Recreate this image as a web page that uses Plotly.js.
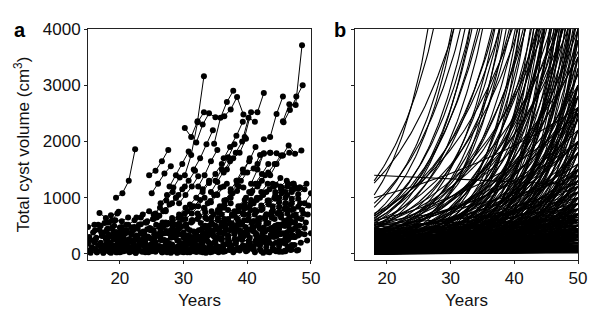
<!DOCTYPE html>
<html><head><meta charset="utf-8">
<script src="https://cdn.plot.ly/plotly-3.0.1.min.js"></script>
<style>html,body{margin:0;padding:0;background:#fff}#chart{width:600px;height:317px}</style>
</head><body><div id="chart"></div>
<script>
// Panel a: each subject = [age at first scan, volume at scans 1..4] (cm3), yearly scans
const visitOffsets = [0, 1, 2, 3];
const subjectsTeens = [
 [15.0,480,520,500,560],[15.0,180,210,150,240],[15.0,60,90,70,110],[15.2,300,260,320,350],
 [15.4,20,30,25,40],[15.6,120,160,140,190],[15.8,380,430,400,470],[16.0,240,200,270,300],
 [16.2,80,60,110,90],[16.4,30,50,40,70],[16.8,730,640,600,750],[16.6,520,550,690,720],
 [17.0,160,210,260,230],[17.2,350,300,380,420],[17.4,20,40,30,60],[17.6,90,130,110,170],
 [17.8,270,320,290,360],[18.0,440,400,470,520],[18.2,50,80,60,100],[18.4,190,150,220,260],
 [18.6,20,30,50,40],[18.8,310,360,410,380],[19.0,120,170,140,200],[19.2,60,40,90,70],
 [19.4,1000,1080,1300,1860],[19.6,230,280,250,330],[19.8,380,420,470,450],
 [15.3,250,290,330,310],[16.1,420,380,450,500],[17.3,120,90,150,180],[18.3,560,600,580,650],
 [19.1,300,340,380,420]
];
const subjects20s = [
 [20.0,30,60,50,80],[20.2,150,120,180,220],[20.5,280,250,310,360],[20.8,80,110,90,140],
 [21.0,420,470,520,560],[21.2,200,240,210,280],[21.5,30,20,50,40],[21.8,340,300,370,420],
 [22.0,120,160,200,180],[22.3,480,530,580,620],[22.5,20,40,30,60],[22.8,260,300,280,350],
 [23.0,60,90,140,120],[23.3,380,440,420,500],[23.6,170,140,210,250],[24.0,30,50,80,60],
 [24.2,560,620,680,760],[24.4,300,270,330,380],[24.6,1400,1480,1650,1850],[24.8,100,140,120,180],
 [25.0,1080,1250,1430,1560],[25.2,420,480,560,640],[25.4,200,250,230,300],[25.6,40,30,60,90],
 [25.8,650,760,880,1000],[26.0,320,370,420,400],[26.2,140,190,170,230],[26.4,900,1050,1180,1360],
 [26.6,60,90,80,120],[26.8,480,540,520,610],[27.0,250,290,340,380],[27.2,780,900,1050,1200],
 [27.4,30,50,40,80],[27.6,370,420,480,450],[27.8,1200,1400,1600,1820],[28.0,160,130,190,240],
 [28.2,560,640,720,820],[28.4,80,110,150,130],[28.6,300,350,330,400],[28.8,1000,1150,1300,1480],
 [29.0,20,30,50,40],[29.2,450,500,560,620],[29.4,200,240,290,270],[29.6,680,760,850,960],
 [29.8,40,70,60,100],[28.0,20,30,40,30],[29.0,250,290,270,320],
 [20.3,480,520,600,650],[21.4,90,130,170,150],[22.6,650,700,760,720],[23.4,250,310,360,420],
 [24.5,50,80,110,100],[25.3,700,820,950,1100],[26.3,350,410,470,540],[27.3,520,600,700,820],
 [28.3,380,450,520,600],[29.3,900,1050,1200,1380],[29.7,150,190,240,290],[26.7,30,60,90,80],
 [23.7,400,460,520,560]
];
const subjects30s = [
 [30.2,2240,2080,2360,3160],[30.0,140,180,160,220],[30.2,1400,1760,2340,2520],[30.4,520,580,660,740],
 [30.6,30,50,40,70],[30.8,320,370,430,410],[31.0,880,1000,1150,1300],[31.2,90,120,110,160],
 [31.4,600,680,650,760],[31.6,1500,1700,1950,2200],[31.8,230,280,330,310],[32.0,40,30,60,80],
 [32.2,720,820,940,1060],[32.4,420,470,530,600],[32.0,1980,2300,2500,2430],[32.8,170,220,200,260],
 [33.0,1100,1260,1420,1600],[33.2,60,90,120,100],[33.4,500,560,640,620],[33.6,280,330,380,440],
 [33.8,900,1050,1180,1250],[34.8,1960,2420,2700,2900],[34.2,30,50,40,70],[34.4,650,740,820,900],
 [34.6,380,420,480,540],[35.0,1300,1500,1720,1950],[35.2,120,160,200,180],[35.4,780,880,1000,1120],
 [35.6,460,520,500,580],[36.4,2450,2570,2790,2480],[36.0,250,300,350,400],[36.2,50,80,70,110],
 [36.4,950,1100,1230,1180],[36.6,600,680,760,850],[36.8,1500,1700,1800,2050],[37.0,330,380,360,440],
 [37.2,160,200,250,230],[37.4,1150,1300,1450,1700],[37.6,700,780,880,960],[37.8,30,60,50,90],
 [38.0,450,520,600,580],[38.2,1800,2000,2420,2350],[38.4,260,310,290,360],[38.6,850,960,1080,1200],
 [38.8,100,140,130,180],[39.0,1300,1450,1520,1760],[39.2,550,620,700,780],[39.6,2080,2520,2520,2860],
 [39.6,380,430,500,470],[39.8,1000,1120,1250,1400],
 [30.5,180,210,250,290],[31.0,420,380,460,500],[32.0,100,150,130,190],[33.0,350,400,450,500],
 [33.5,20,40,30,50],[34.0,200,240,280,260],[35.0,500,560,620,700],[35.5,60,50,80,100],
 [36.0,700,780,760,850],[37.0,220,260,300,340],[38.0,80,110,100,140],[38.5,620,700,780,760],
 [39.0,300,350,400,450],[39.5,800,880,960,1050],[36.5,400,460,520,600],[34.5,100,130,170,150],
 [30.3,620,720,850,1000],[31.3,260,310,360,420],[32.3,1200,1400,1650,1850],[33.3,800,920,1050,1200],
 [34.3,1100,1280,1450,1650],[35.3,300,360,420,480],[36.3,1700,1900,2100,2350],[37.3,550,640,720,820],
 [38.3,1300,1500,1650,1900],[39.3,150,190,230,270],[38.7,420,480,550,620],[35.7,850,960,1080,1200],
 [32.7,550,620,700,780]
];
const subjects40s = [
 [40.0,60,90,80,130],[40.2,700,780,860,950],[40.4,200,240,300,280],[40.6,1250,1500,1790,1800],
 [40.8,480,540,620,700],[41.0,900,1000,1100,1250],[41.2,30,50,40,70],[41.4,330,380,440,500],
 [41.6,1600,1780,1800,1790],[41.8,600,660,740,720],[42.0,150,190,170,230],[42.2,1100,1250,1200,1350],
 [42.4,800,880,980,1080],[42.6,2040,2080,2490,2800],[42.8,400,460,520,590],[43.0,50,70,60,50],
 [43.2,250,300,350,330],[43.4,950,1050,1150,1220],[43.6,1400,1600,1750,1800],[43.8,650,720,800,880],
 [44.0,100,140,180,160],[44.2,480,520,600,680],[44.4,1100,1180,1250,1200],[44.6,320,370,420,470],
 [44.8,60,50,70,60],[45.0,750,820,900,980],[45.2,1200,1300,1250,1180],[45.4,200,250,300,360],
 [45.6,2360,2660,2650,3710],[45.7,2340,2560,2800,3000],[45.5,1750,1930,1780,1840],[45.8,500,580,640,720],
 [46.0,900,980,1060,1150],[46.2,380,440,500,560],[46.4,120,160,200,240],[46.6,650,700,780,860],
 [47.0,300,330,350,370],[47.0,780,840,900,1080],[45.0,1000,1100,1150,1160],
 [40.0,420,480,460,540],[40.5,140,180,220,200],[41.0,580,640,700,780],[42.0,300,260,330,380],
 [42.5,20,30,50,40],[43.0,700,760,840,900],[44.0,400,450,500,560],[44.5,200,230,270,300],
 [45.0,40,60,80,70],[46.0,300,340,400,460],[44.0,850,920,1000,1100],[41.5,1000,1080,1150,1230],
 [40.3,1100,1250,1420,1600],[41.3,750,820,920,1000],[42.3,1300,1450,1600,1750],[43.3,550,620,700,800],
 [44.3,1000,1150,1200,1250],[45.3,650,720,800,900],[46.3,1050,1150,1180,1250],[46.5,500,560,620,700],
 [41.7,250,300,340,400]
];

// Panel b: fitted exponential growth per subject = [volume at age 18, extrapolated volume at age 50] (cm3)
const fitAgeStart = 18, fitAgeEnd = 50;
const fitCurves = [
 [1400,1230],[1260,24000],[1050,160000],[900,30000],[700,60000],[670,30000],[640,22000],[600,15000],
 [560,9000],[520,6000],[480,3500],[450,12000],[420,2200],[400,7000],[380,1500],[360,18000],
 [350,4800],[340,900],[320,10000],[310,2800],[300,6000],[290,1200],[280,25000],[270,4000],
 [260,8000],[250,1800],[240,600],[230,14000],[220,3200],[210,5500],[200,900],[200,20000],
 [190,2400],[180,7000],[170,400],[170,12000],[160,4500],[150,1500],[150,30000],[140,6000],
 [130,800],[130,9000],[120,2800],[120,16000],[110,300],[110,5000],[100,1200],[100,10000],
 [95,3500],[90,600],[90,20000],[85,7000],[80,2000],[80,250],[75,12000],[70,4200],
 [70,900],[65,1600],[60,9000],[60,350],[55,5000],[55,2600],[50,700],[50,15000],
 [48,150],[45,6000],[45,1100],[42,3000],[40,500],[40,25000],[38,8000],[36,1800],
 [35,200],[34,4500],[32,11000],[30,900],[30,2200],[28,400],[28,6500],[26,14000],
 [25,1300],[24,100],[24,3800],[22,600],[22,9000],[20,2000],[20,300],[19,5200],
 [18,1000],[18,18000],[17,150],[16,2800],[16,7000],[15,500],[14,1500],[14,12000],
 [13,80],[12,4000],[12,800],[11,250],[10,6000],[10,1800],[9,3000],[9,120],
 [8,9000],[8,600],[7,2200],[7,40],[6,1200],[6,4500],[5,300],[5,15000],
 [5,900],[4,2500],[4,60],[3,700],
 [590,2500],[550,1400],[530,800],[500,5000],[470,2000],[440,1000],[410,4500],[390,650],
 [370,3000],[330,1100],[300,450],[280,2000],[260,700],[230,1300],[210,3800],[190,500],
 [175,1800],[160,250],[140,1100],[125,3000],[115,700],[105,200],[95,1500],[85,450],
 [75,2600],[65,150],[58,800],[52,3500],[46,250],[43,1400],[38,600],[33,90],
 [30,4800],[27,1000],[23,200],[21,1200],[19,450],[17,3300],[15,60],[13,900],
 [11,2000],[9,400],[7,7000],[6,100],[5,1600],[4,500],[3,3000],[2,200],
 [400,1200],[390,2600],[380,9000],[370,700],[360,1600],[350,500],[340,5500],[330,2000],[320,800],[310,14000],
 [300,1300],[290,3600],[280,600],[270,1000],[260,20000],[250,400],[240,2500],[230,700],[220,7500],[210,1100],
 [200,350],[195,4200],[190,1300],[185,800],[180,2600],[175,10000],[170,600],[165,1500],[160,3200],[155,350],
 [150,900],[145,5200],[140,400],[135,1800],[130,2400],[125,600],[120,1000],[115,8000],[110,1400],[105,450],
 [100,3000],[98,700],[95,250],[92,1900],[90,1100],[88,15000],[85,300],[82,2800],[80,700],[78,5500],
 [75,1200],[72,400],[70,2200],[68,180],[66,9000],[64,900],[62,3300],[60,600],[58,1500],[56,200],
 [54,6500],[52,1000],[50,350],[48,2400],[46,800],[44,4000],[42,250],[40,1300],[38,3000],[36,500],
 [34,12000],[33,1000],[32,150],[31,2000],[30,400],[29,6000],[28,700],[27,2600],[26,250],[25,1600],
 [24,9000],[23,450],[22,3000],[21,900],[20,120],[19,2000],[18,5000],[17,350],[16,1300],[15,700],
 [14,3800],[13,200],[12,1800],[12,8000],[11,500],[10,1000],[10,2600],[9,250],[9,5000],[8,1400],
 [8,3500],[7,300],[7,900],[6,2000],[6,150],[5,700],[5,4000],[4,1100],[4,250],[3,1500],
 [3,400],[2,800],[2,2500],[2,60],[1,300],[1,1000],
 [620,40000],[580,26000],[540,35000],[500,18000],[460,45000],[430,28000],[680,12000],[720,9000],[1000,2600],
 [1300,60000],[830,50000],
 [300,350],[280,420],[260,300],[250,520],[240,280],[220,450],[210,260],[200,600],[190,230],[180,380],
 [170,500],[160,200],[150,320],[140,650],[130,180],[120,400],[110,260],[100,550],[95,140],[90,320],
 [85,600],[80,160],[75,450],[70,120],[65,380],[60,240],[55,90],[50,520],[45,160],[40,300],
 [38,70],[35,450],[32,200],[30,60],[28,350],[25,130],[22,500],[20,80],[18,250],[16,40],
 [14,400],[12,150],[10,30],[9,600],[8,200],[6,80],[5,350],[4,20],[3,120],[2,40],
 [350,620],[330,380],[310,560],[290,700],[270,330],[450,500],[430,650],[410,560],[480,720],[520,600]
];

const xTicks = [20, 30, 40, 50];
const yTicks = [0, 1000, 2000, 3000, 4000];
const yTickText = ['0', '1000', '2000', '3000', '4000'];

// build panel a trace
const ax = [], ay = [];
[subjectsTeens, subjects20s, subjects30s, subjects40s].forEach(group => {
  group.forEach(row => {
    visitOffsets.forEach((o, i) => { ax.push(row[0] + o); ay.push(row[i + 1]); });
    ax.push(null); ay.push(null);
  });
});

// build panel b trace from each subject's fitted exponential
const bx = [], by = [];
const nSteps = 128;
fitCurves.forEach(([v18, v50]) => {
  for (let k = 0; k <= nSteps; k++) {
    const f = k / nSteps;
    bx.push(fitAgeStart + f * (fitAgeEnd - fitAgeStart));
    by.push(v18 * Math.pow(v50 / v18, f));
  }
  bx.push(null); by.push(null);
});

const FONT = '"Liberation Sans", Arial, Helvetica, sans-serif';
const axisCommon = {
  showgrid: false, zeroline: false, showline: true, linecolor: '#222', linewidth: 1,
  mirror: true, ticks: 'outside', ticklen: 3, tickwidth: 1, tickcolor: '#222',
  tickfont: {family: FONT, size: 17, color: '#111'}
};

const data = [
  {x: ax, y: ay, xaxis: 'x', yaxis: 'y', type: 'scatter', mode: 'lines+markers',
   line: {color: '#000', width: 1}, marker: {color: '#000', size: 6},
   connectgaps: false, hoverinfo: 'skip', showlegend: false},
  {x: bx, y: by, xaxis: 'x2', yaxis: 'y2', type: 'scatter', mode: 'lines',
   line: {color: '#000', width: 1.1}, connectgaps: false, hoverinfo: 'skip', showlegend: false}
];

const layout = {
  width: 600, height: 317,
  margin: {l: 88, r: 22, t: 29, b: 57},
  paper_bgcolor: '#fff', plot_bgcolor: '#fff',
  font: {family: FONT, color: '#111'},
  showlegend: false,
  xaxis: Object.assign({}, axisCommon, {domain: [0, 0.455], range: [15, 50], tickvals: xTicks,
    title: {text: 'Years', font: {family: FONT, size: 17, color: '#111'}, standoff: 6}}),
  yaxis: Object.assign({}, axisCommon, {range: [-107, 4000], tickvals: yTicks, ticktext: yTickText,
    title: {text: 'Total cyst volume (cm<sup>3</sup>)', font: {family: FONT, size: 17, color: '#111'}, standoff: 8}}),
  xaxis2: Object.assign({}, axisCommon, {domain: [0.545, 1], range: [15, 50], tickvals: xTicks, anchor: 'y2',
    title: {text: 'Years', font: {family: FONT, size: 17, color: '#111'}, standoff: 6}}),
  yaxis2: Object.assign({}, axisCommon, {range: [-107, 4000], tickvals: yTicks, showticklabels: false, anchor: 'x2'}),
  annotations: [
    {text: '<b>a</b>', xref: 'paper', yref: 'paper', x: -0.155, y: 0.995, xanchor: 'left', yanchor: 'middle',
     showarrow: false, font: {family: FONT, size: 20, color: '#000'}},
    {text: '<b>b</b>', xref: 'paper', yref: 'paper', x: 0.498, y: 0.995, xanchor: 'left', yanchor: 'middle',
     showarrow: false, font: {family: FONT, size: 20, color: '#000'}}
  ]
};

Plotly.newPlot('chart', data, layout, {staticPlot: true, displayModeBar: false});
</script>
</body></html>
